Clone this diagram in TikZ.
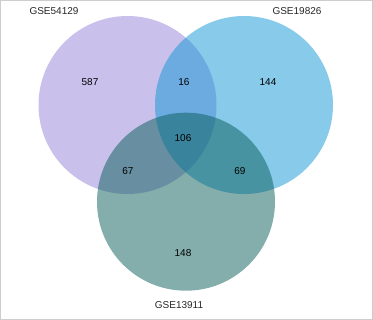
\documentclass[tikz,border=0pt]{standalone}
\usepackage{fontspec}
\setmainfont{Liberation Sans}
\usepackage{tikz}
\usetikzlibrary{positioning}
\definecolor{vnPurple}{RGB}{147,131,217}
\definecolor{vnBlue}{RGB}{15,149,213}
\definecolor{vnTeal}{RGB}{9,93,89}
\definecolor{vnFrame}{RGB}{205,205,205}

\begin{document}
\begin{tikzpicture}[
    font=\fontsize{10}{12}\selectfont, x=1pt, y=-1pt,
    setcircle/.style={circle, minimum size=178pt, inner sep=0pt,
                      fill opacity=0.5, draw=none},
    count/.style={anchor=center, inner sep=0pt, text=black},
    setname/.style={anchor=center, inner sep=0pt, text=black!85}
]
\draw[vnFrame, line width=1pt] (0.5,0.5) rectangle (372.5,319.5);
\useasboundingbox (0,0) rectangle (373,320);
% the three sets
\foreach \nm/\cx/\cy/\col in {s54129/127.5/105/vnPurple,
                             s19826/244/105/vnBlue,
                             s13911/186/201.7/vnTeal} {
   \node[setcircle, fill=\col] (\nm) at (\cx, \cy) {};
}
% set names
\node[setname] (n54129) at (54, 11) {GSE54129};
\node[setname] (n19826) at (297, 11) {GSE19826};
\node[setname] (n13911) at (179, 305) {GSE13911};
% region counts
\foreach \nm/\px/\py/\v in {c587/90/82/587, c16/184/82/16, c144/268/82/144,
                            c106/183/138/106, c67/128/171/67, c69/240/171/69,
                            c148/183/253/148} {
   \node[count] (\nm) at (\px, \py) {\v};
}
\end{tikzpicture}
\end{document}
